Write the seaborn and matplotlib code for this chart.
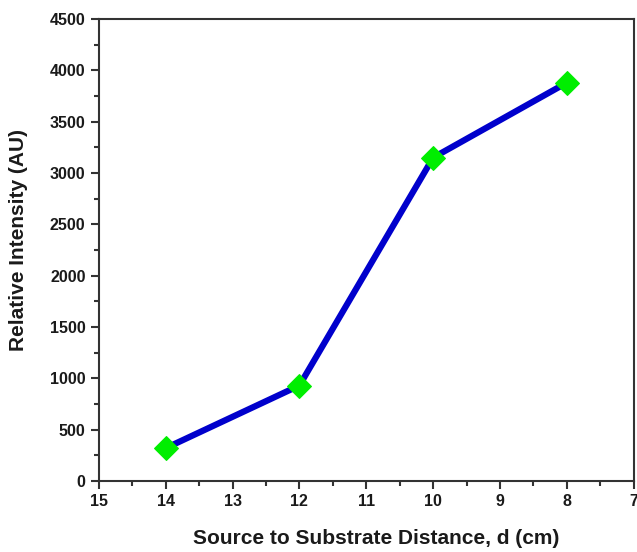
import numpy as np
import pandas as pd
import matplotlib
matplotlib.use("Agg")
import matplotlib.pyplot as plt
import seaborn as sns

distance = [14, 12, 10, 8]
intensity = [320, 930, 3150, 3880]

df = pd.DataFrame({"d": distance, "I": intensity})

sns.set_style("white")
plt.rcParams["font.family"] = ["Liberation Sans", "DejaVu Sans"]
plt.rcParams["text.color"] = "#1a1a1a"
plt.rcParams["xtick.color"] = "#1a1a1a"
plt.rcParams["ytick.color"] = "#1a1a1a"
plt.rcParams["axes.labelcolor"] = "#1a1a1a"

fig = plt.figure(figsize=(6.37, 5.52), dpi=100)
ax = fig.add_axes([0.155, 0.1286, 0.84, 0.837])

sns.lineplot(data=df, x="d", y="I", ax=ax, color="#0000cc", linewidth=4.5,
             marker="D", markersize=12, markerfacecolor="#00ee00",
             markeredgecolor="#00ee00", sort=False)

ax.set_xlim(15, 7)
ax.set_ylim(0, 4500)
ax.set_xticks(np.arange(15, 6, -1))
ax.set_xticks(np.arange(14.5, 7, -1), minor=True)
ax.set_yticks(np.arange(0, 4501, 500))
ax.set_yticks(np.arange(250, 4500, 500), minor=True)

for s in ax.spines.values():
    s.set_color("#333333")
    s.set_linewidth(1.5)

ax.tick_params(which="major", direction="out", length=6, width=1.5, color="#333333",
               bottom=True, left=True, top=False, right=False, labelsize=11.5)
ax.tick_params(which="minor", direction="out", length=3.5, width=1.5, color="#333333",
               bottom=True, left=True, top=False, right=False)
for lab in ax.get_xticklabels() + ax.get_yticklabels():
    lab.set_fontweight("bold")

ax.set_xlabel("Source to Substrate Distance, d (cm)", fontsize=15, fontweight="bold")
ax.set_ylabel("Relative Intensity (AU)", fontsize=15, fontweight="bold")
ax.xaxis.set_label_coords(0.518, -0.103)
ax.yaxis.set_label_coords(-0.133, 0.522)

fig.savefig("out.png", dpi=100)
